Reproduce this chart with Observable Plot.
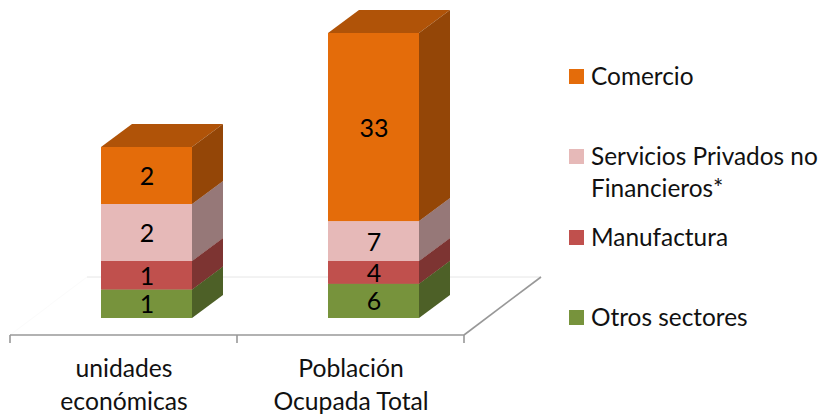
<!DOCTYPE html>
<html>
<head>
<meta charset="utf-8">
<script src="https://cdn.jsdelivr.net/npm/d3@7"></script>
<script src="https://cdn.jsdelivr.net/npm/@observablehq/plot@0.6"></script>
<style>
  html, body { margin: 0; padding: 0; background: #fff; }
  #wrap { position: relative; width: 819px; height: 417px; overflow: hidden; font-family: Lato, sans-serif; color: #111; }
  #legend { position: absolute; left: 569px; top: 0; }
  .item { position: absolute; left: 0; width: 250px; }
  .sw { position: absolute; left: 0; width: 15px; height: 15px; top: 9px; }
  .lb { position: absolute; left: 22px; top: 0; font-size: 24.4px; line-height: 32px; white-space: pre; }
</style>
</head>
<body>
<div id="wrap"></div>
<script>
// Categories and series, bottom of the stack first
const categories = ["unidades\neconómicas", "Población\nOcupada Total"];
const seriesNames = ["Otros sectores", "Manufactura", "Servicios Privados no\nFinancieros*", "Comercio"];
const seriesColors = ["#77933c", "#c0504d", "#e6b9b8", "#e46c0a"];

// Drawn heights of each segment, per category
const unidadesHeights = [5, 5, 10, 10];
const poblacionHeights = [6, 4, 7, 33];

// Printed data labels, per category
const unidadesLabels = [1, 1, 2, 2];
const poblacionLabels = [6, 4, 7, 33];

const rows = [];
seriesNames.forEach((s, i) => {
  rows.push({cat: categories[0], series: s, h: unidadesHeights[i], label: unidadesLabels[i]});
  rows.push({cat: categories[1], series: s, h: poblacionHeights[i], label: poblacionLabels[i]});
});

const barDepth = [31, -23], floorDepth = [77, -58];
const barInset = 68, barShift = 23;
const font = "Lato, sans-serif";

function shade(c, k) { const r = d3.rgb(c); return d3.rgb(r.r * k, r.g * k, r.b * k).formatHex(); }

// Floor of the 3D scene: axis line, tick marks and the receding edges
function floor(index, scales, values, dims) {
  const g = d3.create("svg:g").attr("fill", "none");
  const x0 = dims.marginLeft, x1 = dims.width - dims.marginRight, yF = dims.height - dims.marginBottom;
  const [dx, dy] = floorDepth;
  const line = (a, b, c, d, col, w) => g.append("line").attr("x1", a).attr("y1", b).attr("x2", c).attr("y2", d).attr("stroke", col).attr("stroke-width", w);
  line(x0 + dx, yF + dy, x1 + dx, yF + dy, "#e6e6e6", 1);
  line(x0, yF, x0 + dx, yF + dy, "#fbfbfb", 1);
  line(x0, yF, x1, yF, "#989898", 1.6);
  line(x1, yF, x1 + dx, yF + dy, "#989898", 1.6);
  const edges = [...categories.map(c => scales.x(c)), x1];
  for (const e of edges) line(e, yF, e, yF + 8, "#989898", 1.6);
  return g.node();
}

// Adds the side and top faces behind each front rectangle of the stacked bars
function withDepth(index, scales, values, dims, ctx, next) {
  const g = next(index, scales, values, dims, ctx);
  const [dx, dy] = barDepth;
  g.querySelectorAll("rect").forEach(r => {
    const x = +r.getAttribute("x"), y = +r.getAttribute("y"), w = +r.getAttribute("width"), h = +r.getAttribute("height");
    const c = r.getAttribute("fill");
    const poly = (pts, col) => {
      const p = ctx.document.createElementNS("http://www.w3.org/2000/svg", "polygon");
      p.setAttribute("points", pts.map(q => q.join(",")).join(" "));
      p.setAttribute("fill", col);
      p.setAttribute("stroke", "none");
      r.parentNode.insertBefore(p, r);
    };
    poly([[x, y], [x + w, y], [x + w + dx, y + dy], [x + dx, y + dy]], shade(c, 0.77));
    poly([[x + w, y], [x + w + dx, y + dy], [x + w + dx, y + h + dy], [x + w, y + h]], shade(c, 0.65));
  });
  return g;
}

const chart = Plot.plot({
  width: 819,
  height: 417,
  marginLeft: 10,
  marginRight: 355,
  marginTop: 33,
  marginBottom: 82,
  style: {background: "#fff", fontFamily: font},
  x: {domain: categories, padding: 0, axis: null},
  y: {domain: [0, 50], range: [318, 33], axis: null},
  color: {domain: seriesNames, range: seriesColors},
  marks: [
    floor,
    Plot.axisX({
      domain: categories,
      tickSize: 0,
      tickPadding: 18,
      fontSize: 24.7,
      lineHeight: 1.34,
      fill: "#111",
      label: null
    }),
    Plot.barY(rows, {
      x: "cat", y: "h", fill: "series", order: null,
      insetLeft: barInset, insetRight: barInset, dx: barShift,
      render: withDepth
    }),
    Plot.text(rows, Plot.stackY({
      x: "cat", y: "h", z: "series", order: null, text: "label",
      dx: barShift, dy: 1, fontSize: 25, fill: "#000"
    }))
  ]
});

const wrap = document.getElementById("wrap");
wrap.appendChild(chart);

// Legend, top of the stack first
const legendTops = [60, 140, 221, 301];
const legend = d3.select(wrap).append("div").attr("id", "legend");
[...seriesNames].reverse().forEach((s, i) => {
  const item = legend.append("div").attr("class", "item").style("top", legendTops[i] + "px");
  item.append("div").attr("class", "sw").style("background", [...seriesColors].reverse()[i]);
  item.append("div").attr("class", "lb").text(s);
});
</script>
</body>
</html>
